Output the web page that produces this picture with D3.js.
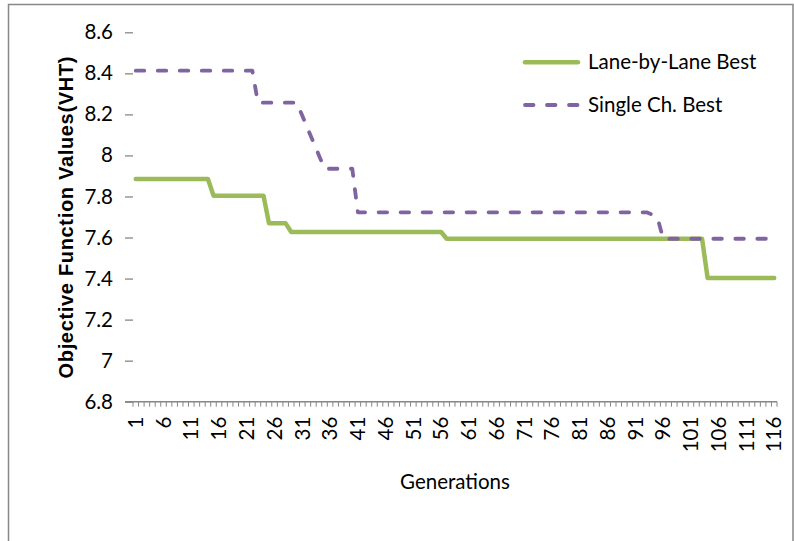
<!DOCTYPE html>
<html>
<head>
<meta charset="utf-8">
<script src="https://cdn.jsdelivr.net/npm/d3@7"></script>
<style>
  html, body { margin: 0; padding: 0; background: #ffffff; }
  svg { display: block; }
</style>
</head>
<body>
<svg id="chart" width="794" height="541"></svg>
<script>
// ---------- data ----------
const generations = d3.range(1, 117); // categories 1..116
const xTickLabels = [1, 6, 11, 16, 21, 26, 31, 36, 41, 46, 51, 56, 61, 66, 71, 76, 81, 86, 91, 96, 101, 106, 111, 116];
const yTickValues = [6.8, 7.0, 7.2, 7.4, 7.6, 7.8, 8.0, 8.2, 8.4, 8.6];
const seriesNames = ["Lane-by-Lane Best", "Single Ch. Best"];

const laneByLaneBest = [
  7.885, 7.885, 7.885, 7.885, 7.885, 7.885, 7.885, 7.885, 7.885, 7.885,
  7.885, 7.885, 7.885, 7.885, 7.804, 7.804, 7.804, 7.804, 7.804, 7.804,
  7.804, 7.804, 7.804, 7.804, 7.669, 7.669, 7.669, 7.669, 7.627, 7.627,
  7.627, 7.627, 7.627, 7.627, 7.627, 7.627, 7.627, 7.627, 7.627, 7.627,
  7.627, 7.627, 7.627, 7.627, 7.627, 7.627, 7.627, 7.627, 7.627, 7.627,
  7.627, 7.627, 7.627, 7.627, 7.627, 7.627, 7.594, 7.594, 7.594, 7.594,
  7.594, 7.594, 7.594, 7.594, 7.594, 7.594, 7.594, 7.594, 7.594, 7.594,
  7.594, 7.594, 7.594, 7.594, 7.594, 7.594, 7.594, 7.594, 7.594, 7.594,
  7.594, 7.594, 7.594, 7.594, 7.594, 7.594, 7.594, 7.594, 7.594, 7.594,
  7.594, 7.594, 7.594, 7.594, 7.594, 7.594, 7.594, 7.594, 7.594, 7.594,
  7.594, 7.594, 7.594, 7.403, 7.403, 7.403, 7.403, 7.403, 7.403, 7.403,
  7.403, 7.403, 7.403, 7.403, 7.403, 7.403
];

const singleChBest = [
  8.413, 8.413, 8.413, 8.413, 8.413, 8.413, 8.413, 8.413, 8.413, 8.413,
  8.413, 8.413, 8.413, 8.413, 8.413, 8.413, 8.413, 8.413, 8.413, 8.413,
  8.413, 8.413, 8.257, 8.257, 8.257, 8.257, 8.257, 8.257, 8.257, 8.257,
  8.193, 8.128, 8.064, 8.000, 7.935, 7.935, 7.935, 7.935, 7.935, 7.935,
  7.723, 7.723, 7.723, 7.723, 7.723, 7.723, 7.723, 7.723, 7.723, 7.723,
  7.723, 7.723, 7.723, 7.723, 7.723, 7.723, 7.723, 7.723, 7.723, 7.723,
  7.723, 7.723, 7.723, 7.723, 7.723, 7.723, 7.723, 7.723, 7.723, 7.723,
  7.723, 7.723, 7.723, 7.723, 7.723, 7.723, 7.723, 7.723, 7.723, 7.723,
  7.723, 7.723, 7.723, 7.723, 7.723, 7.723, 7.723, 7.723, 7.723, 7.723,
  7.723, 7.723, 7.723, 7.712, 7.694, 7.594, 7.594, 7.594, 7.594, 7.594,
  7.594, 7.594, 7.594, 7.594, 7.594, 7.594, 7.594, 7.594, 7.594, 7.594,
  7.594, 7.594, 7.594, 7.594, 7.594, 7.594
];

// ---------- layout ----------
const svg = d3.select("#chart");
const plotLeft = 133, plotRight = 777, plotTop = 32.3, plotBottom = 401.7;
const gray = "#878787";
const green = "#9BBB59";
const purple = "#8064A2";
const labelFont = "Lato, 'Open Sans', sans-serif";

// outer frame
svg.append("rect")
  .attr("x", 8.5).attr("y", 4.5)
  .attr("width", 784.5).attr("height", 560)
  .attr("fill", "none").attr("stroke", gray).attr("stroke-width", 1.5);

const x = d3.scaleBand().domain(generations).range([plotLeft, plotRight]);
const xc = g => x(g) + x.bandwidth() / 2;
const y = d3.scaleLinear().domain([6.8, 8.6]).range([plotBottom, plotTop]);

// y axis (ticks + labels, no domain line)
const yAxis = svg.append("g")
  .attr("transform", `translate(${plotLeft},0)`)
  .call(d3.axisLeft(y).tickValues(yTickValues).tickSize(8).tickPadding(12)
    .tickFormat(d => String(+d.toFixed(1))));
yAxis.select(".domain").remove();
yAxis.selectAll(".tick line").attr("stroke", gray).attr("stroke-width", 1.3);
yAxis.selectAll(".tick text")
  .attr("font-family", labelFont).attr("font-size", 20.5).attr("fill", "#000");

// x axis: line, tick marks at category boundaries, labels
const xAxisG = svg.append("g");
xAxisG.append("line")
  .attr("x1", plotLeft - 8).attr("x2", plotRight)
  .attr("y1", plotBottom).attr("y2", plotBottom)
  .attr("stroke", gray).attr("stroke-width", 1.5);
const boundaries = generations.map(g => x(g)).concat([plotRight]);
xAxisG.selectAll("line.tk").data(boundaries).join("line")
  .attr("class", "tk")
  .attr("x1", d => d).attr("x2", d => d)
  .attr("y1", plotBottom).attr("y2", plotBottom + 5)
  .attr("stroke", gray).attr("stroke-width", 1);
xAxisG.selectAll("text.lbl").data(xTickLabels).join("text")
  .attr("class", "lbl")
  .attr("transform", d => `translate(${xc(d)},${plotBottom + 15}) rotate(-90)`)
  .attr("text-anchor", "end")
  .attr("dy", "0.35em")
  .attr("font-family", labelFont).attr("font-size", 20.5).attr("fill", "#000")
  .text(d => d);

// axis titles
svg.append("text")
  .attr("x", 455).attr("y", 489)
  .attr("text-anchor", "middle")
  .attr("font-family", labelFont).attr("font-size", 20.5).attr("fill", "#000")
  .text("Generations");

svg.append("text")
  .attr("transform", "translate(73,217.5) rotate(-90)")
  .attr("text-anchor", "middle")
  .attr("font-family", "'Liberation Sans', Arial, sans-serif")
  .attr("font-weight", "bold").attr("font-size", 20).attr("fill", "#000")
  .attr("textLength", 322).attr("lengthAdjust", "spacing")
  .text("Objective Function Values(VHT)");

// lines
const line = d3.line().x((d, i) => xc(generations[i])).y(d => y(d));
svg.append("path")
  .datum(laneByLaneBest)
  .attr("d", line)
  .attr("fill", "none").attr("stroke", green).attr("stroke-width", 4.5)
  .attr("stroke-linejoin", "round").attr("stroke-linecap", "round");
svg.append("path")
  .datum(singleChBest)
  .attr("d", line)
  .attr("fill", "none").attr("stroke", purple).attr("stroke-width", 3.8)
  .attr("stroke-dasharray", "8.5,13.5")
  .attr("stroke-linejoin", "round").attr("stroke-linecap", "round");

// legend
const legend = svg.append("g");
const legendItems = [
  { name: seriesNames[0], color: green, width: 4.5, dash: null, y: 62.3 },
  { name: seriesNames[1], color: purple, width: 3.8, dash: "8.5,13.5", y: 105 }
];
legendItems.forEach(it => {
  legend.append("line")
    .attr("x1", 525).attr("x2", 578).attr("y1", it.y).attr("y2", it.y)
    .attr("stroke", it.color).attr("stroke-width", it.width)
    .attr("stroke-linecap", "round")
    .attr("stroke-dasharray", it.dash);
  legend.append("text")
    .attr("x", 588).attr("y", it.y).attr("dy", "0.35em")
    .attr("font-family", labelFont).attr("font-size", 20.5).attr("fill", "#000")
    .text(it.name);
});
</script>
</body>
</html>
